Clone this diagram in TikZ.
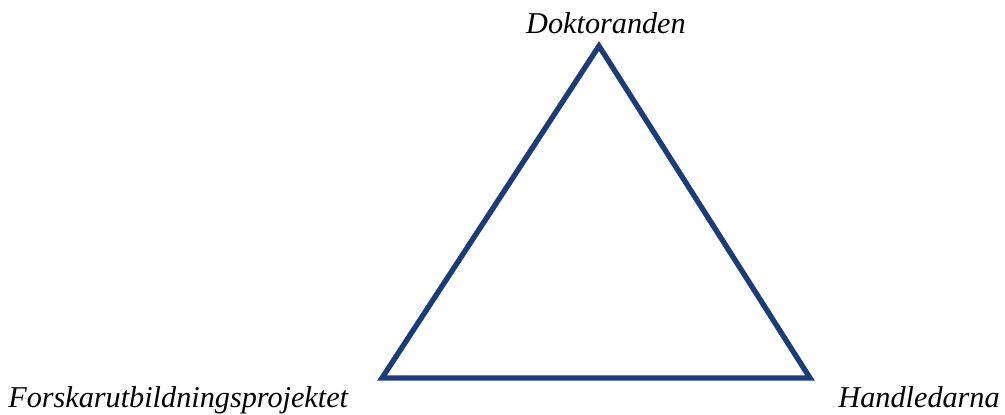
\documentclass[tikz,border=0pt]{standalone}
\usepackage{fontspec}
\setmainfont{Liberation Serif}
\usepackage{xcolor}
\usetikzlibrary{positioning}

\definecolor{edgeblue}{HTML}{1B3C78}

\begin{document}
\begin{tikzpicture}[x=0.025cm, y=-0.025cm,
    role/.style={font=\itshape\fontsize{21.5}{25}\selectfont, inner sep=0pt},
    side/.style={draw=edgeblue, line width=3.8pt, line join=miter}]

\useasboundingbox (0,0) rectangle (1005,414);

\coordinate (top) at (599,46);
\coordinate (left) at (382,378);
\coordinate (right) at (810,378);

\node (dok) [role, anchor=base] at (606,33) {Doktoranden};
\node (fup) [role, anchor=base west] at (8,407) {Forskarutbildningsprojektet};
\node (hand) [role, anchor=base east] at (1000,407) {Handledarna};

\draw [side] (top) -- (right) -- (left) -- cycle;

\end{tikzpicture}
\end{document}
